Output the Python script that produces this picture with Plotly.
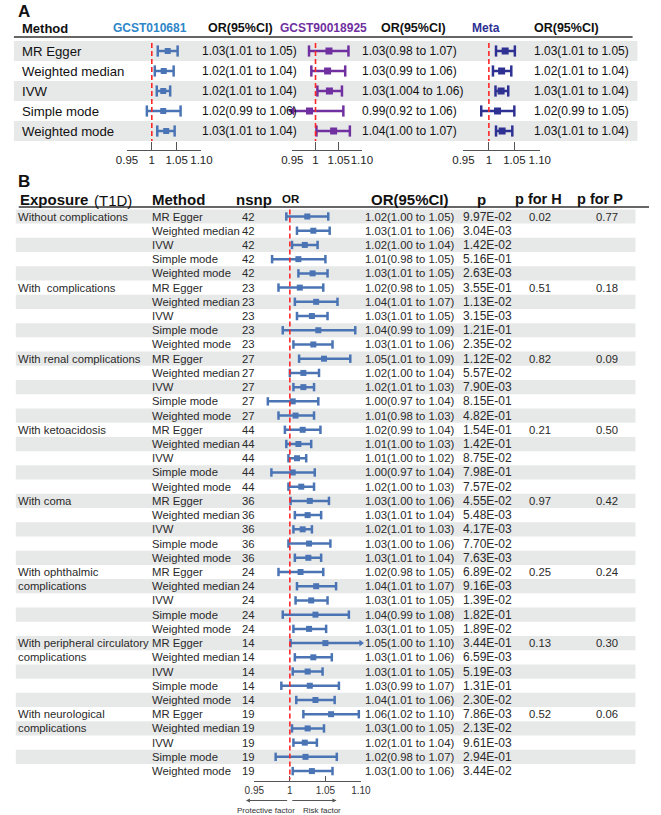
import plotly.graph_objects as go

W, H = 661, 815
FONT = "Arial, Liberation Sans, sans-serif"

# ---------------- Panel A data ----------------
methods_a = ["MR Egger", "Weighted median", "IVW", "Simple mode", "Weighted mode"]
gcst1_or = [1.032, 1.024, 1.023, 1.023, 1.029]
gcst1_lo = [1.012, 1.006, 1.010, 0.990, 1.011]
gcst1_hi = [1.052, 1.044, 1.037, 1.058, 1.046]
gcst1_text = ["1.03(1.01 to 1.05)", "1.02(1.01 to 1.04)", "1.02(1.01 to 1.04)",
              "1.02(0.99 to 1.06)", "1.03(1.01 to 1.04)"]
gcst2_or = [1.029, 1.026, 1.030, 0.987, 1.039]
gcst2_lo = [0.986, 0.991, 1.004, 0.920, 1.002]
gcst2_hi = [1.071, 1.064, 1.057, 1.060, 1.074]
gcst2_text = ["1.03(0.98 to 1.07)", "1.03(0.99 to 1.06)", "1.03(1.004 to 1.06)",
              "0.99(0.92 to 1.06)", "1.04(1.00 to 1.07)"]
meta_or = [1.032, 1.025, 1.024, 1.017, 1.026]
meta_lo = [1.014, 1.008, 1.013, 0.985, 1.014]
meta_hi = [1.051, 1.044, 1.038, 1.050, 1.046]
meta_text = ["1.03(1.01 to 1.05)", "1.02(1.01 to 1.04)", "1.03(1.01 to 1.04)",
             "1.02(0.99 to 1.05)", "1.03(1.01 to 1.04)"]
tick_vals = [0.95, 1.0, 1.05, 1.10]
tick_text = ["0.95", "1", "1.05", "1.10"]

# ---------------- Panel B data ----------------
exposures = [["Without complications"], ["With\u00a0 complications"], ["With renal complications"],
             ["With ketoacidosis"], ["With coma"], ["With ophthalmic", "complications"],
             ["With peripheral circulatory", "complications"],
             ["With neurological", "complications"]]
methods_b = ["MR Egger", "Weighted median", "IVW", "Simple mode", "Weighted mode"]
nsnp = [42, 23, 27, 44, 36, 24, 14, 19]
or_b = [1.0245, 1.033, 1.021, 1.012, 1.032,
        1.014, 1.037, 1.031, 1.040, 1.033,
        1.048, 1.019, 1.019, 1.004, 1.008,
        1.018, 1.012, 1.010, 1.004, 1.016,
        1.028, 1.025, 1.018, 1.027, 1.026,
        1.015, 1.037, 1.030, 1.036, 1.027,
        1.050, 1.033, 1.025, 1.028, 1.036,
        1.058, 1.025, 1.021, 1.022, 1.031]
lo_b = [0.995, 1.010, 1.003, 0.975, 1.012,
        0.984, 1.007, 1.010, 0.990, 1.005,
        1.013, 1.000, 1.005, 0.969, 0.984,
        0.993, 0.995, 0.998, 0.974, 0.998,
        1.001, 1.007, 1.005, 0.998, 1.007,
        0.984, 1.010, 1.008, 0.990, 1.005,
        1.001, 1.007, 1.004, 0.988, 1.009,
        1.019, 1.003, 1.005, 0.980, 1.004]
hi_b = [1.054, 1.056, 1.039, 1.050, 1.053,
        1.047, 1.067, 1.053, 1.092, 1.060,
        1.085, 1.041, 1.034, 1.040, 1.034,
        1.043, 1.030, 1.023, 1.035, 1.034,
        1.055, 1.044, 1.031, 1.057, 1.044,
        1.047, 1.065, 1.053, 1.083, 1.051,
        1.104, 1.059, 1.046, 1.069, 1.063,
        1.097, 1.048, 1.038, 1.066, 1.060]
or_text_b = ["1.02(1.00 to 1.05)", "1.03(1.01 to 1.06)", "1.02(1.00 to 1.04)", "1.01(0.98 to 1.05)", "1.03(1.01 to 1.05)",
             "1.02(0.98 to 1.05)", "1.04(1.01 to 1.07)", "1.03(1.01 to 1.05)", "1.04(0.99 to 1.09)", "1.03(1.01 to 1.06)",
             "1.05(1.01 to 1.09)", "1.02(1.00 to 1.04)", "1.02(1.01 to 1.03)", "1.00(0.97 to 1.04)", "1.01(0.98 to 1.03)",
             "1.02(0.99 to 1.04)", "1.01(1.00 to 1.03)", "1.01(1.00 to 1.02)", "1.00(0.97 to 1.04)", "1.02(1.00 to 1.03)",
             "1.03(1.00 to 1.06)", "1.03(1.01 to 1.04)", "1.02(1.01 to 1.03)", "1.03(1.00 to 1.06)", "1.03(1.01 to 1.04)",
             "1.02(0.98 to 1.05)", "1.04(1.01 to 1.07)", "1.03(1.01 to 1.05)", "1.04(0.99 to 1.08)", "1.03(1.01 to 1.05)",
             "1.05(1.00 to 1.10)", "1.03(1.01 to 1.06)", "1.03(1.01 to 1.05)", "1.03(0.99 to 1.07)", "1.04(1.01 to 1.06)",
             "1.06(1.02 to 1.10)", "1.03(1.00 to 1.05)", "1.02(1.01 to 1.04)", "1.02(0.98 to 1.07)", "1.03(1.00 to 1.06)"]
p_text_b = ["9.97E-02", "3.04E-03", "1.42E-02", "5.16E-01", "2.63E-03",
            "3.55E-01", "1.13E-02", "3.15E-03", "1.21E-01", "2.35E-02",
            "1.12E-02", "5.57E-02", "7.90E-03", "8.15E-01", "4.82E-01",
            "1.54E-01", "1.42E-01", "8.75E-02", "7.98E-01", "7.57E-02",
            "4.55E-02", "5.48E-03", "4.17E-03", "7.70E-02", "7.63E-03",
            "6.89E-02", "9.16E-03", "1.39E-02", "1.82E-01", "1.89E-02",
            "3.44E-01", "6.59E-03", "5.19E-03", "1.31E-01", "2.30E-02",
            "7.86E-03", "2.13E-02", "9.61E-03", "2.94E-01", "3.44E-02"]
p_het = ["0.02", "0.51", "0.82", "0.21", "0.97", "0.25", "0.13", "0.52"]
p_ple = ["0.77", "0.18", "0.09", "0.50", "0.42", "0.24", "0.30", "0.06"]

BLUE = "#4A74B4"
PURPLE = "#7030A0"
NAVY = "#2E3192"
RED = "#FF2626"
SHADE = "#E7E8E8"
AXC = "#555555"

XMIN, XMAX = 0.95, 1.10

# row geometry (pixels)
A_ROW0, A_STEP = 51.0, 20.0
B_ROW0, B_STEP = 216.5, 14.22


def yrange(row0, step):
    return [(H - row0) / step, -row0 / step]


def py(p):
    return 1 - p / H


fig = go.Figure()


def forest(xa, ya, pts, lo, hi, color, sq, cap, lw):
    xs, ys = [], []
    capx, capy, lax, lay, rax, ray = [], [], [], [], [], []
    for i, (p, l, h) in enumerate(zip(pts, lo, hi)):
        xs += [max(l, XMIN), min(h, XMAX), None]
        ys += [i, i, None]
        if l < XMIN:
            lax.append(XMIN); lay.append(i)
        else:
            capx.append(l); capy.append(i)
        if h > XMAX:
            rax.append(XMAX); ray.append(i)
        else:
            capx.append(h); capy.append(i)
    fig.add_trace(go.Scatter(x=xs, y=ys, mode="lines", xaxis=xa, yaxis=ya,
                             line=dict(color=color, width=lw), hoverinfo="skip",
                             showlegend=False))
    fig.add_trace(go.Scatter(x=capx, y=capy, mode="markers", xaxis=xa, yaxis=ya,
                             marker=dict(symbol="line-ns", size=cap,
                                         line=dict(color=color, width=lw)),
                             cliponaxis=False, hoverinfo="skip", showlegend=False))
    if lax:
        fig.add_trace(go.Scatter(x=lax, y=lay, mode="markers", xaxis=xa, yaxis=ya,
                                 marker=dict(symbol="triangle-left", size=cap, color=color),
                                 cliponaxis=False, hoverinfo="skip", showlegend=False))
    if rax:
        fig.add_trace(go.Scatter(x=rax, y=ray, mode="markers", xaxis=xa, yaxis=ya,
                                 marker=dict(symbol="triangle-right", size=cap, color=color),
                                 cliponaxis=False, hoverinfo="skip", showlegend=False))
    fig.add_trace(go.Scatter(x=pts, y=list(range(len(pts))), mode="markers",
                             xaxis=xa, yaxis=ya,
                             marker=dict(symbol="square", size=sq, color=color),
                             cliponaxis=False, hoverinfo="skip", showlegend=False))


forest("x", "y", gcst1_or, gcst1_lo, gcst1_hi, BLUE, 6, 8, 2.5)
forest("x2", "y2", gcst2_or, gcst2_lo, gcst2_hi, PURPLE, 7, 8, 2.5)
forest("x3", "y3", meta_or, meta_lo, meta_hi, NAVY, 7, 8, 2.5)
forest("x4", "y4", or_b, lo_b, hi_b, BLUE, 6, 6, 2.5)


def xaxis_cfg(x0, x1, ypos, ticklen, font):
    return dict(domain=[x0 / W, x1 / W], range=[XMIN, XMAX], anchor="free",
                position=py(ypos), showline=True, linecolor=AXC, linewidth=1,
                ticks="inside", ticklen=ticklen, tickcolor=AXC, tickwidth=1,
                tickvals=tick_vals, ticktext=tick_text, tickfont=font, tickangle=0,
                showgrid=False, zeroline=False, fixedrange=True)


fontA = dict(family=FONT, size=11.5, color="#222")
fontB = dict(family=FONT, size=10, color="#333")
ra = yrange(A_ROW0, A_STEP)
rb = yrange(B_ROW0, B_STEP)
fig.update_layout(
    width=W, height=H, margin=dict(l=0, r=0, t=0, b=0),
    paper_bgcolor="white", plot_bgcolor="rgba(0,0,0,0)", showlegend=False,
    xaxis=xaxis_cfg(120, 197, 149.5, 8, fontA),
    xaxis2=xaxis_cfg(291, 363, 149.5, 8, fontA),
    xaxis3=xaxis_cfg(468, 547, 149.5, 8, fontA),
    xaxis4=xaxis_cfg(251.7, 362, 780.5, 5, fontB),
    yaxis=dict(domain=[0, 1], range=ra, visible=False, anchor="x", fixedrange=True),
    yaxis2=dict(domain=[0, 1], range=ra, visible=False, anchor="x2", fixedrange=True),
    yaxis3=dict(domain=[0, 1], range=ra, visible=False, anchor="x3", fixedrange=True),
    yaxis4=dict(domain=[0, 1], range=rb, visible=False, anchor="x4", fixedrange=True),
)

shapes = []
# shading panel A
for i in range(len(methods_a)):
    if i % 2 == 0:
        shapes.append(dict(type="rect", xref="paper", yref="y", x0=3 / W, x1=648 / W,
                           y0=i - 0.5, y1=i + 0.5, fillcolor=SHADE, line=dict(width=0),
                           layer="below"))
# shading panel B
for i in range(len(or_b)):
    if i % 2 == 0:
        shapes.append(dict(type="rect", xref="paper", yref="y4", x0=5 / W, x1=646 / W,
                           y0=i - 0.5, y1=i + 0.5, fillcolor=SHADE, line=dict(width=0),
                           layer="below"))
# header rules
shapes.append(dict(type="line", xref="paper", yref="paper", x0=3 / W, x1=643 / W,
                   y0=py(37), y1=py(37), line=dict(color="#333", width=1.5)))
shapes.append(dict(type="line", xref="paper", yref="paper", x0=8 / W, x1=660 / W,
                   y0=py(207), y1=py(207), line=dict(color="#333", width=1.5)))
# reference lines at OR = 1
for xr, yr, y0, y1 in [("x", "y", -0.4, 4.5), ("x2", "y2", -0.4, 4.5),
                       ("x3", "y3", -0.4, 4.5), ("x4", "y4", -0.5, 39.6)]:
    shapes.append(dict(type="line", xref=xr, yref=yr, x0=1, x1=1, y0=y0, y1=y1,
                       line=dict(color=RED, width=1.6, dash="5px,3px")))
fig.update_layout(shapes=shapes)

ann = []


def txt(x, y, text, yref="paper", size=12, color="#111", bold=False, anchor="left",
        family=FONT):
    if yref == "paper":
        y = py(y)
    ann.append(dict(x=x / W, y=y, xref="paper", yref=yref,
                    text=("<b>%s</b>" % text) if bold else text, showarrow=False,
                    xanchor=anchor, yanchor="middle",
                    font=dict(size=size, color=color, family=family)))


# ---- Panel A text ----
txt(5, 11, "A", size=17, bold=True, color="#111")
txt(9, 28, "Method", size=13, bold=True)
txt(144, 28, "GCST010681", size=12, bold=True, color="#2E86C8", anchor="center")
txt(202, 28, "OR(95%CI)", size=12.5, bold=True)
txt(323, 28, "GCST90018925", size=12, bold=True, color=PURPLE, anchor="center")
txt(381, 28, "OR(95%CI)", size=12.5, bold=True)
txt(491, 28, "Meta", size=12, bold=True, color=NAVY, anchor="center")
txt(539, 28, "OR(95%CI)", size=12.5, bold=True)
for i, m in enumerate(methods_a):
    txt(9, i, m, yref="y", size=13.2)
    txt(195, i, gcst1_text[i], yref="y", size=12)
    txt(361, i, gcst2_text[i], yref="y", size=12)
    txt(539, i, meta_text[i], yref="y", size=12)

# ---- Panel B text ----
txt(5, 181, "B", size=17, bold=True, color="#111")
txt(7, 199, "Exposure", size=15, bold=True)
txt(84, 200, "(T1D)", size=15)
txt(144, 199, "Method", size=15, bold=True)
txt(231, 199, "nsnp", size=15, bold=True)
txt(290, 199, "OR", size=11.5, bold=True, anchor="center")
txt(370, 199, "OR(95%CI)", size=15, bold=True)
txt(487, 199, "p", size=15, bold=True, anchor="center")
txt(519, 199, "p for H", size=14.5, bold=True)
txt(583, 199, "p for P", size=14.5, bold=True)

TB = "#2a2a2a"
for g in range(len(nsnp)):
    for k, line in enumerate(exposures[g]):
        txt(5, g * 5 + k, line, yref="y4", size=11.3, color=TB)
    txt(534, g * 5, p_het[g], yref="y4", size=11.3, color=TB)
    txt(630, g * 5, p_ple[g], yref="y4", size=11.3, color=TB, anchor="right")
    for j, m in enumerate(methods_b):
        r = g * 5 + j
        txt(144, r, m, yref="y4", size=11.3, color=TB)
        txt(246, r, str(nsnp[g]), yref="y4", size=11.3, color=TB, anchor="center")
        txt(364, r, or_text_b[r], yref="y4", size=11.3, color=TB)
        txt(466, r, p_text_b[r], yref="y4", size=12, color=TB)

# bottom direction arrows
for head, tail in [(243, 285.7), (336.7, 291)]:
    ann.append(dict(x=head / W, y=py(800.5), xref="paper", yref="paper", text="",
                    showarrow=True, ax=tail - head, ay=0, arrowhead=2, arrowsize=0.8,
                    arrowwidth=1, arrowcolor="#555"))
txt(264, 810, "Protective factor", size=8, color="#333", anchor="center")
txt(322, 810, "Risk factor", size=8, color="#333", anchor="center")

fig.update_layout(annotations=ann)
fig.write_html("out.html", config={"displayModeBar": False},
               post_script="document.body.style.margin='0';document.body.style.overflow='hidden';")
